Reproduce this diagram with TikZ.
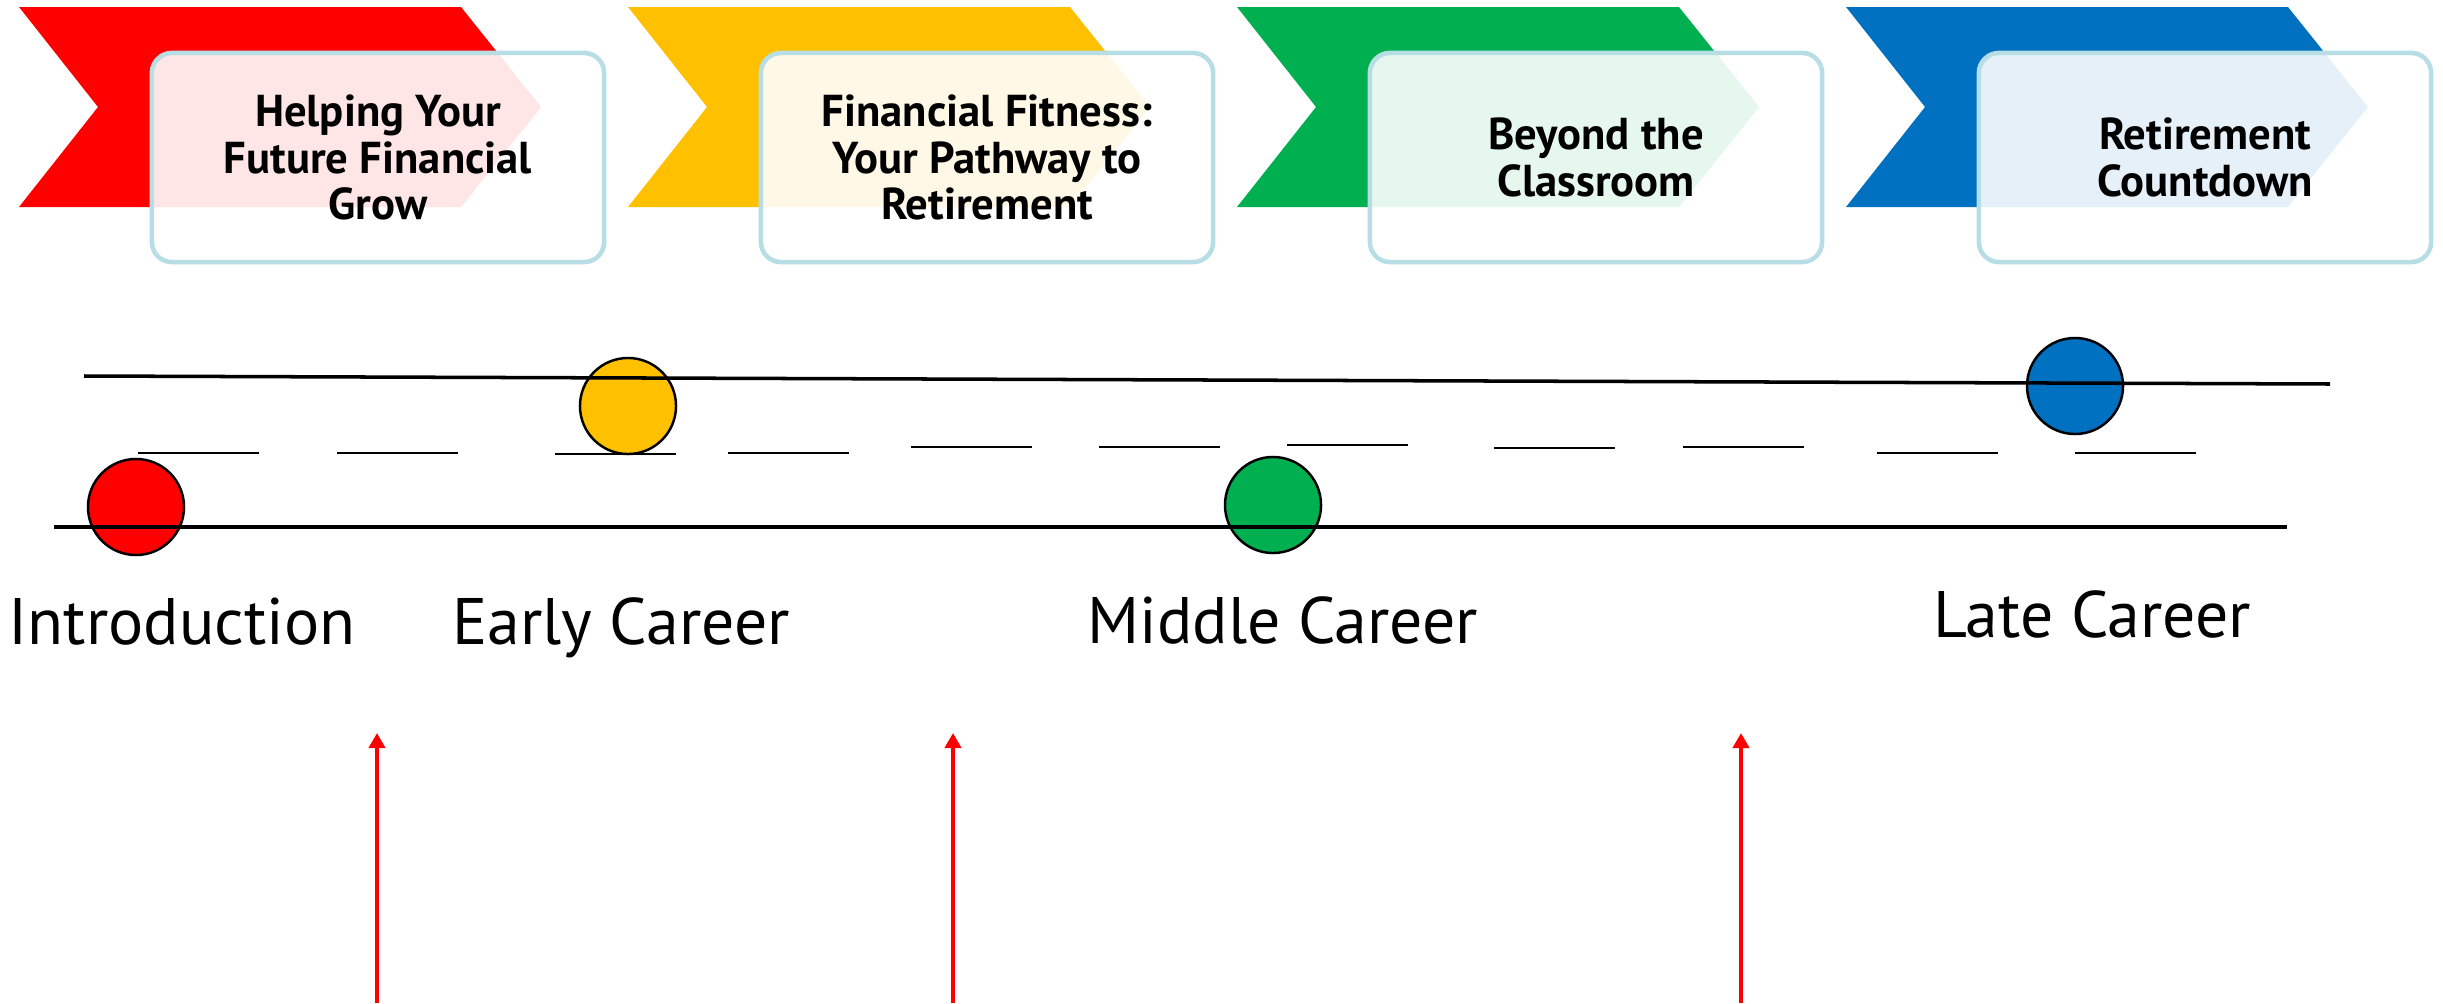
\documentclass[tikz,border=0pt]{standalone}
\usepackage{fontspec}
\setmainfont{PT Sans}
\usetikzlibrary{arrows.meta}
\definecolor{stagered}{RGB}{255,0,0}
\definecolor{stageyellow}{RGB}{255,192,0}
\definecolor{stagegreen}{RGB}{0,176,80}
\definecolor{stageblue}{RGB}{0,112,192}
\definecolor{boxedge}{RGB}{183,222,228}

\begin{document}
\begin{tikzpicture}[x=0.01cm,y=-0.01cm,
	stagebox/.style={draw=boxedge,line width=1.3pt,rounded corners=0.2cm,fill=white,fill opacity=0.9,text opacity=1,
		minimum width=4.52cm,minimum height=2.09cm,inner sep=0pt,align=center,font=\fontsize{12.7}{13.3}\selectfont\bfseries},
	stagedot/.style={circle,draw,line width=0.7pt,fill=#1,minimum size=0.96cm,inner sep=0pt},
	stagelabel/.style={anchor=base,font=\fontsize{18.7}{22}\selectfont},
	road/.style={line width=1pt},
	lane/.style={line width=0.75pt},
	uparrow/.style={draw=stagered,line width=1.1pt,-{Triangle[length=0.15cm,width=0.16cm]}}]
			\useasboundingbox (0,0) rectangle (2443,1003);
			\fill[stagered] (19,7) -- ++(442,0) -- ++(80,100) -- ++(-80,100) -- ++(-442,0) -- ++(79,-100) -- cycle;
			\fill[stageyellow] (628,7) -- ++(442,0) -- ++(80,100) -- ++(-80,100) -- ++(-442,0) -- ++(79,-100) -- cycle;
			\fill[stagegreen] (1237,7) -- ++(442,0) -- ++(80,100) -- ++(-80,100) -- ++(-442,0) -- ++(79,-100) -- cycle;
			\fill[stageblue] (1846,7) -- ++(442,0) -- ++(80,100) -- ++(-80,100) -- ++(-442,0) -- ++(79,-100) -- cycle;
			%
			\node[stagebox] (box1) at (378,157.5) {Helping Your\\Future Financial\\Grow};
			\node[stagebox] (box2) at (987,157.5) {Financial Fitness:\\Your Pathway to\\Retirement};
			\node[stagebox] (box3) at (1596,157.5) {Beyond the\\Classroom};
			\node[stagebox] (box4) at (2205,157.5) {Retirement\\Countdown};
			%
			\node[stagedot=stagered] (intro) at (136,507) {};
			\node[stagedot=stageyellow] (early) at (628,406) {};
			\node[stagedot=stagegreen] (middle) at (1273,505) {};
			\node[stagedot=stageblue] (late) at (2075,386) {};
			%
			\draw[road] (84,376) -- (2330,384);
			\draw[road] (54,527) -- (2287,527);
			\draw[lane] (138,453) -- ++(121,0) (337,453) -- ++(121,0) (555,454) -- ++(121,0)
				(728,453) -- ++(121,0) (911,447) -- ++(121,0) (1099,447) -- ++(121,0)
				(1287,445) -- ++(121,0) (1494,448) -- ++(121,0) (1683,447) -- ++(121,0)
				(1877,453) -- ++(121,0) (2075,453) -- ++(121,0);
			%
			\node[stagelabel] (introlabel) at (182,644) {Introduction};
			\node[stagelabel] (earlylabel) at (621,644) {Early Career};
			\node[stagelabel] (middlelabel) at (1283,643) {Middle Career};
			\node[stagelabel] (latelabel) at (2092,637) {Late Career};
			%
			\coordinate (foot1) at (377,1003);
			\coordinate (head1) at (377,733);
			\coordinate (foot2) at (953,1003);
			\coordinate (head2) at (953,733);
			\coordinate (foot3) at (1741,1003);
			\coordinate (head3) at (1741,733);
			\draw[uparrow] (foot1) -- (head1);
			\draw[uparrow] (foot2) -- (head2);
			\draw[uparrow] (foot3) -- (head3);
		\end{tikzpicture}
\end{document}
